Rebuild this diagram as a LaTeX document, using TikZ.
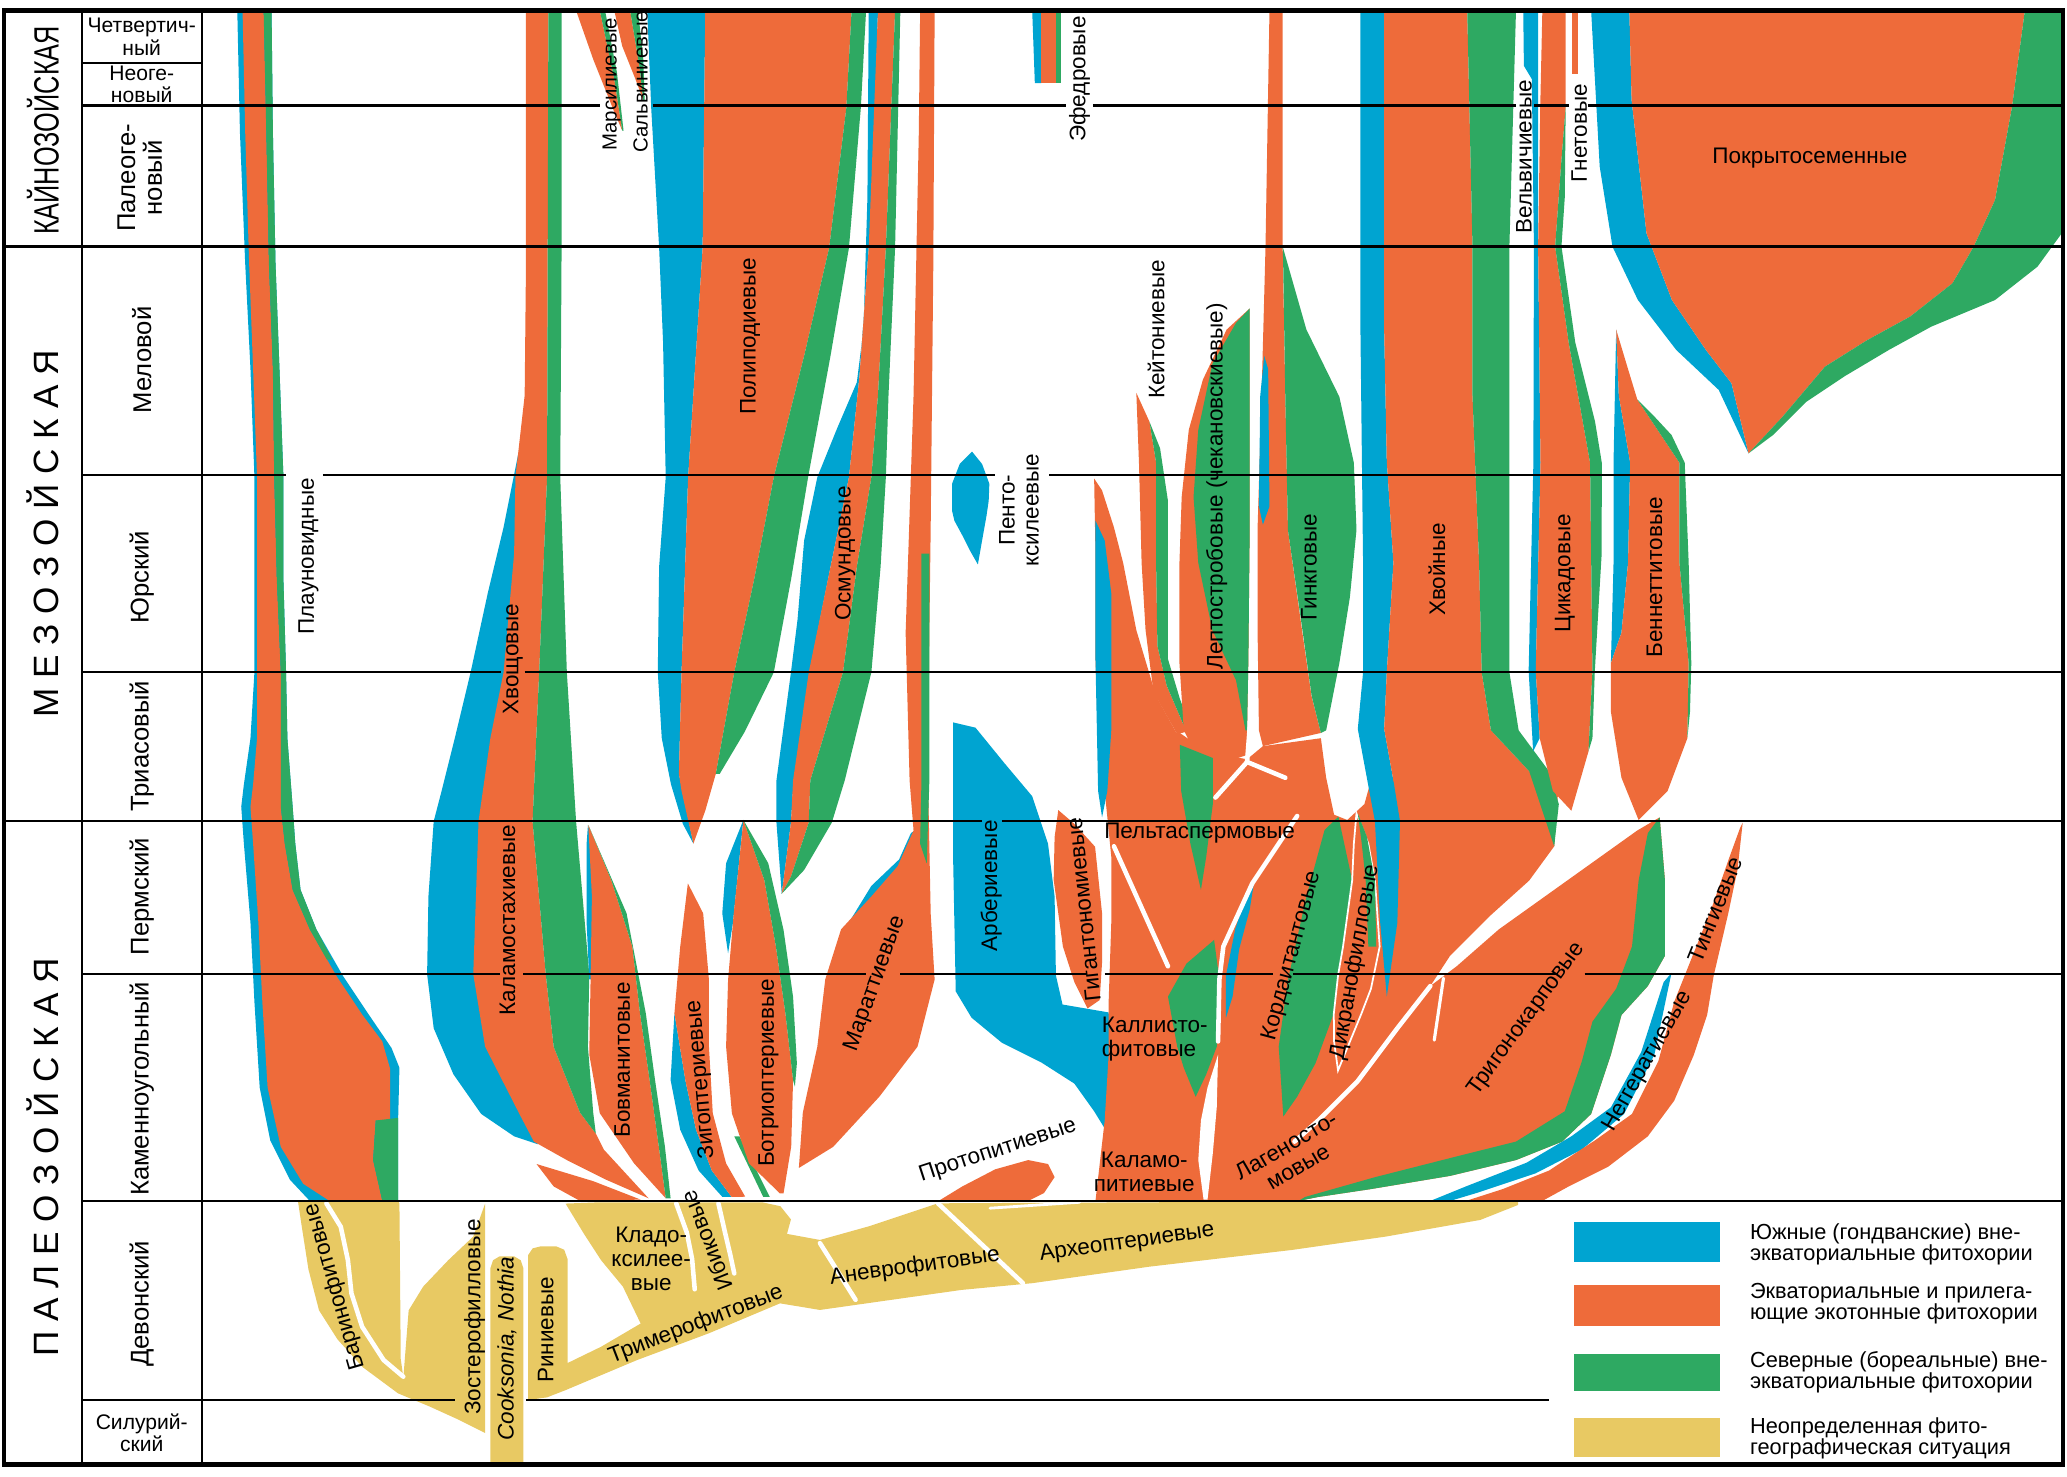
\documentclass[tikz,border=0pt]{standalone}
\usepackage{fontspec}
\setmainfont{Liberation Sans}
\usepackage{graphicx}
\usepackage{tikz}
\definecolor{sblue}{RGB}{0,164,209}
\definecolor{eorange}{RGB}{238,107,58}
\definecolor{ngreen}{RGB}{46,169,98}
\definecolor{uyellow}{RGB}{232,201,99}

\begin{document}
\begin{tikzpicture}[x=0.013183cm, y=-0.013183cm,
	lbl/.style={font=\fontsize{6.4}{6.8}\selectfont, inner sep=0pt, align=center},
	vlbl/.style={lbl, rotate=90},
	tinylbl/.style={font=\fontsize{5.8}{6}\selectfont, inner sep=0pt, rotate=90},
	per/.style={font=\fontsize{7.3}{7.6}\selectfont, inner sep=0pt, align=center},
	smallper/.style={font=\fontsize{6}{6.4}\selectfont, inner sep=0pt, align=center},
	era/.style={font=\fontsize{10}{10}\selectfont, inner sep=0pt, rotate=90},
	chronoline/.style={line width=0.6pt},
	slit/.style={white, line width=1.3pt, line cap=round, line join=round},
	leg/.style={font=\fontsize{6.2}{6.1}\selectfont, inner sep=0pt, align=left, anchor=west}]
	\useasboundingbox (0,0) rectangle (1568,1120);
	\coordinate (NW) at (3,8);
	\coordinate (SE) at (1565,1111);
	\coordinate (C1) at (62,8);
	\coordinate (C2) at (153,8);

	\fill[uyellow] (226,911) -- (302,911) -- (303,913) -- (304,1031) -- (306,1045) -- (307,1032) -- (310,994) -- (321,976) -- (340,956) -- (359,938) -- (368,913) -- (368,1087) -- (360,1083) -- (348,1077) -- (326,1067) -- (302,1057) -- (275,1037) -- (256,1016) -- (242,994) -- (234,963) -- (229,931) -- cycle;
	\fill[uyellow] (372,1111) -- (372,962) -- (374,956) -- (379,953) -- (390,953) -- (395,956) -- (397,962) -- (397,1111) -- cycle;
	\fill[uyellow] (400.7,1062) -- (400.7,952) -- (404,947) -- (410,945.5) -- (422,945.5) -- (428,948) -- (430.5,955) -- (430.5,1034) -- (456,1021.6) -- (486,1004) -- (472.5,976) -- (456,956) -- (443,936) -- (429,913) -- (456,912) -- (505,912) -- (553.8,912) -- (578,912) -- (592,915) -- (600,925) -- (597,936) -- (622,940.6) -- (660,930) -- (690,920) -- (711.5,912.8) -- (1151.7,910.7) -- (1151.7,914) -- (1123,925.4) -- (1051.5,938) -- (979.9,948.2) -- (872.5,960.8) -- (783,973.4) -- (729.4,978.5) -- (622,993.7) -- (591.7,988.7) -- (537.5,1011.5) -- (483.3,1031.7) -- (429.1,1054.5) -- (415,1060) -- cycle;
	\draw[slit] (247.6,912.9) -- (258.5,930.6) -- (263.9,955.9) -- (266.6,981.1) -- (274.7,1006.4) -- (291,1031.7) -- (305.9,1044.3);
	\draw[slit] (513,913) -- (521,935) -- (525,955) -- (527,978);
	\draw[slit] (545,913) -- (550,935) -- (554,952) -- (557,966);
	\draw[slit] (622,943) -- (649,986);
	\draw[slit] (711.5,912.8) -- (776,973.4);
	\draw[slit, line width=0.8pt] (751,916.5) -- (819,912);

	\fill[sblue] (180,8) -- (206,8) -- (207,100) -- (209,200) -- (212,280) -- (215,362) -- (215,440) -- (217,510) -- (218,560) -- (222,612) -- (224,640) -- (228,675) -- (240,705) -- (260,740) -- (280,770) -- (297,795) -- (303,810) -- (302,850) -- (302,911) -- (235,911) -- (220,895) -- (205,865) -- (197,825) -- (193,760) -- (190,700) -- (185,640) -- (183,612) -- (185,595) -- (190,560) -- (193,510) -- (193,362) -- (190,280) -- (186,200) -- (182,100) -- cycle;
	\fill[eorange] (184,8) -- (200,8) -- (202,100) -- (204,200) -- (207,280) -- (208,362) -- (210,440) -- (213,510) -- (213,560) -- (213,612) -- (216,640) -- (222,675) -- (235,705) -- (255,740) -- (275,770) -- (290,790) -- (296,811) -- (296,850) -- (285,850) -- (283,880) -- (290,911) -- (250,911) -- (230,898) -- (213,870) -- (203,825) -- (199,760) -- (196,700) -- (192,640) -- (190,612) -- (192,595) -- (195,560) -- (195,510) -- (195,362) -- (192,280) -- (189,200) -- (186,100) -- cycle;
	\fill[ngreen] (200,8) -- (206,8) -- (207,100) -- (209,200) -- (212,280) -- (215,362) -- (215,440) -- (217,510) -- (218,560) -- (222,612) -- (224,640) -- (228,675) -- (240,705) -- (252,728) -- (248,728) -- (235,705) -- (222,675) -- (216,640) -- (213,612) -- (213,560) -- (213,510) -- (210,440) -- (208,362) -- (207,280) -- (204,200) -- (202,100) -- cycle;
	\fill[ngreen] (285,850) -- (302,848) -- (302,911) -- (290,911) -- (283,880) -- cycle;

	\fill[sblue] (393,345) -- (382,400) -- (370,450) -- (357,510) -- (345,560) -- (335,600) -- (329,623) -- (325,680) -- (324,739) -- (329,780) -- (344,815) -- (365,845) -- (390,862) -- (408,868) -- (400,845) -- (380,794) -- (372,700) -- (378,600) -- (390,480) -- (397,380) -- cycle;
	\fill[eorange] (399,8) -- (416,8) -- (415,362) -- (409,510) -- (404,623) -- (414,739) -- (420,794) -- (440,844) -- (452,860) -- (458,872) -- (492,909) -- (460,895) -- (430,880) -- (405,866) -- (394,845) -- (368,794) -- (359,739) -- (363,623) -- (372,560) -- (382,510) -- (390,420) -- (391,362) -- (398,300) -- (399,200) -- cycle;
	\fill[ngreen] (416,8) -- (426,8) -- (426,188) -- (425,362) -- (430,510) -- (437,623) -- (447,739) -- (446,794) -- (450,844) -- (452,860) -- (440,844) -- (420,794) -- (414,739) -- (404,623) -- (409,510) -- (415,362) -- cycle;
	\fill[eorange] (407,883) -- (450,896) -- (486,910) -- (440,911) -- (420,900) -- cycle;

	\fill[eorange] (437,8) -- (455,8) -- (466,60) -- (472,99) -- (466,85) -- (450,45) -- cycle;
	\fill[ngreen] (455,8) -- (459,8) -- (468,55) -- (473,99) -- (472,99) -- (466,60) -- cycle;
	\fill[eorange] (466,8) -- (478,8) -- (485,50) -- (488,76) -- (482,60) -- (472,35) -- cycle;
	\fill[ngreen] (478,8) -- (484,8) -- (488,45) -- (489,76) -- (488,76) -- (485,50) -- cycle;

	\fill[sblue] (491,8) -- (535,8) -- (533,188) -- (522,362) -- (517,510) -- (515,587) -- (526,640) -- (518,625) -- (509,595) -- (502,560) -- (499,510) -- (500,430) -- (505,362) -- (503,260) -- (500,188) -- (494,82) -- cycle;
	\fill[eorange] (535,8) -- (646,8) -- (642,82) -- (629,188) -- (610,270) -- (587,362) -- (572,440) -- (557,510) -- (543,587) -- (535,615) -- (526,640) -- (517,600) -- (515,587) -- (517,510) -- (522,362) -- (533,188) -- cycle;
	\fill[ngreen] (646,8) -- (657,8) -- (653,82) -- (644,188) -- (630,270) -- (613,362) -- (600,440) -- (587,510) -- (565,555) -- (546,587) -- (543,587) -- (557,510) -- (572,440) -- (587,362) -- (610,270) -- (629,188) -- (642,82) -- cycle;

	\fill[sblue] (659,8) -- (666,8) -- (662,150) -- (659,188) -- (652,285) -- (644,362) -- (630,430) -- (614,510) -- (602,592) -- (600,624) -- (593,678) -- (589,624) -- (589,592) -- (600,510) -- (605,470) -- (610,410) -- (620,362) -- (635,325) -- (650,290) -- (655,250) -- (658,150) -- cycle;
	\fill[eorange] (666,8) -- (679,8) -- (672,188) -- (666,300) -- (661,362) -- (650,430) -- (639.5,510) -- (614.7,592) -- (613.5,624) -- (600,665) -- (593,678) -- (600,624) -- (601.6,592) -- (613.5,510) -- (630,430) -- (644,362) -- (652,285) -- (659,188) -- cycle;
	\fill[ngreen] (679,8) -- (683,8) -- (679,188) -- (674,300) -- (672,362) -- (668,430) -- (661,510) -- (640.8,592) -- (631,624) -- (610,660) -- (593,678) -- (600,665) -- (613.5,624) -- (614.7,592) -- (639.5,510) -- (650,430) -- (661,362) -- (666,300) -- (672,188) -- cycle;

	\fill[sblue] (661,672) -- (682,652) -- (691,632) -- (694,630) -- (685,660) -- (664,684) -- (645,702) -- (642,703) -- cycle;
	\fill[eorange] (698,8) -- (709,8) -- (708,200) -- (706,400) -- (705,480) -- (704,592) -- (706,693) -- (709,743) -- (696,794) -- (667,832) -- (632,870) -- (606,886) -- (609,844) -- (620,794) -- (626,743) -- (638,705) -- (661,680) -- (681,657) -- (693,630) -- (690,592) -- (687,480) -- (693,300) -- (697,100) -- cycle;
	\fill[ngreen] (699,420) -- (705,420) -- (705,592) -- (703,655) -- (698,640) -- (699,592) -- cycle;

	\fill[sblue] (446,626) -- (450,640) -- (452,700) -- (451,743) -- (447,743) -- (445,700) -- (445,640) -- cycle;
	\fill[eorange] (446.3,625.8) -- (463.7,667.6) -- (479.7,718.1) -- (485.5,768.7) -- (492.8,819.3) -- (501.5,882.5) -- (505,909) -- (481,882.5) -- (455,844.5) -- (447,800) -- (448,743.4) -- (449,680) -- cycle;
	\fill[ngreen] (446.3,625.8) -- (475.3,692.8) -- (489.9,768.7) -- (497,820) -- (504.4,869.8) -- (508.7,909) -- (505,909) -- (501.5,882.5) -- (492.8,819.3) -- (485.5,768.7) -- (479.7,718.1) -- (463.7,667.6) -- cycle;

	\fill[sblue] (511.6,768.7) -- (508.7,819.3) -- (516,857) -- (530,888) -- (548,908) -- (555,908) -- (540,888) -- (528,857) -- (520,820) -- cycle;
	\fill[eorange] (521.8,670.1) -- (533.4,692.8) -- (537.8,743.4) -- (537.8,794) -- (540.7,844.5) -- (550.8,882.5) -- (565.3,907.8) -- (555,908) -- (540,888) -- (528,857) -- (520,820) -- (511.6,768.7) -- (516,718.1) -- cycle;
	\fill[ngreen] (557,862) -- (561,862) -- (584,908) -- (579,908) -- cycle;

	\fill[sblue] (563.9,622) -- (550.8,654.9) -- (547.9,692.8) -- (552.3,723.2) -- (556,700) -- (560,660) -- cycle;
	\fill[eorange] (563.9,622) -- (579.8,667.6) -- (588.6,718.1) -- (595.8,768.7) -- (601.6,819.3) -- (600.2,869.8) -- (594.4,905.2) -- (591.5,905.2) -- (568.2,882.5) -- (555.2,844.5) -- (550.8,794) -- (552.3,743.4) -- (556.6,692.8) -- (562.4,637.2) -- cycle;
	\fill[ngreen] (563.9,622) -- (582.8,654.9) -- (594.4,705.5) -- (601.6,756.1) -- (604.5,806.6) -- (603,824.3) -- (601.6,819.3) -- (595.8,768.7) -- (588.6,718.1) -- (579.8,667.6) -- cycle;

	\fill[eorange] (712,911) -- (730,900) -- (755,887) -- (780,880) -- (795,883) -- (800,893) -- (792,905) -- (780,911) -- cycle;

	\fill[sblue] (783,8) -- (790,8) -- (790,63) -- (785,63) -- cycle;
	\fill[eorange] (790,8) -- (801,8) -- (801,63) -- (790,63) -- cycle;
	\fill[ngreen] (801,8) -- (805,8) -- (805,63) -- (801,63) -- cycle;
	\fill[sblue] (737.4,342.6) -- (745,352) -- (750.5,367) -- (750,380) -- (748.3,391.5) -- (745,410) -- (741.8,428.2) -- (736,418) -- (730.9,407.8) -- (724,395) -- (722.2,387.4) -- (722.2,367) -- (728,352) -- cycle;

	\fill[sblue] (723,548) -- (740,552) -- (762,579) -- (783,604) -- (795,640) -- (800,680) -- (801,740) -- (806,762) -- (841,768) -- (843,800) -- (841,845) -- (838,856) -- (830,843) -- (815,822) -- (790,806) -- (760,791) -- (737,772) -- (725,752) -- (723,650) -- cycle;

	\fill[eorange] (831,911) -- (838,850) -- (841,800) -- (841,760) -- (843,700) -- (843,650) -- (838,600) -- (833,560) -- (860,557) -- (895,556) -- (905,563) -- (925,572) -- (946,576) -- (958,566) -- (1002,560) -- (1006,590) -- (1012,618) -- (1022,622) -- (1035,610) -- (1040,592) -- (1060,590) -- (1131,560) -- (1160,585) -- (1182,600) -- (1179,642) -- (1160,668) -- (1130,695) -- (1100,725) -- (1085,748) -- (1105,733) -- (1137,705) -- (1172,680) -- (1207,655) -- (1242,630) -- (1259,620) -- (1263,668) -- (1263,725) -- (1250,748) -- (1230,770) -- (1222,800) -- (1207,845) -- (1185,866) -- (1150,880) -- (1100,892) -- (1040,902) -- (1000,908) -- (985,911) -- cycle;
	\fill[eorange] (802.8,614.5) -- (815,625) -- (830.7,642.3) -- (836,692.8) -- (836,730) -- (834.2,758.6) -- (825,765) -- (815,745) -- (806.3,718) -- (799.3,667.6) -- (800,635) -- cycle;

	\fill[eorange] (830,363) -- (836,372) -- (845,400) -- (852,427) -- (862,478) -- (877,528) -- (893,557) -- (860,560) -- (833,560) -- (831,500) -- (831,420) -- cycle;
	\fill[sblue] (831,395) -- (838,410) -- (843,450) -- (843,554) -- (840,600) -- (836,620) -- (833,600) -- (831,500) -- cycle;
	\fill[eorange] (862,298) -- (872,320) -- (877,351) -- (877,427) -- (878,490) -- (885,520) -- (900,555) -- (893,557) -- (875,525) -- (869,478) -- (866,427) -- (864,351) -- cycle;
	\fill[ngreen] (872,320) -- (880,340) -- (886,380) -- (886,427) -- (886,500) -- (895,530) -- (906,560) -- (900,555) -- (885,520) -- (878,490) -- (877,427) -- (877,351) -- cycle;
	\fill[eorange] (948,234) -- (948,300) -- (948,400) -- (947,500) -- (946,554) -- (948,572) -- (930,578) -- (905,568) -- (898,554) -- (894.7,503) -- (894.7,427) -- (896.4,377) -- (901.8,326) -- (912.5,288) -- (930.5,250) -- cycle;
	\fill[ngreen] (948,234) -- (948,300) -- (948,400) -- (947,500) -- (946,554) -- (944.8,554) -- (937.6,516) -- (919.7,478) -- (909,427) -- (905.4,377) -- (909,326) -- (919.7,276) -- (937.6,245) -- cycle;
	\fill[eorange] (963,8) -- (973,8) -- (973,187) -- (975,300) -- (977,402) -- (987.7,478) -- (994.9,528) -- (1002,556) -- (958,566) -- (955,554) -- (954,480) -- (954,400) -- (957,300) -- (960,187) -- cycle;
	\fill[sblue] (959,270) -- (962,280) -- (963,384) -- (958,398) -- (955,384) -- (956,300) -- cycle;
	\fill[ngreen] (973,187) -- (991,250) -- (1016,301) -- (1027,351) -- (1029,402) -- (1024,453) -- (1016,503) -- (1006,554) -- (1002,556) -- (995,528) -- (988,478) -- (977,402) -- (975,301) -- (973.4,200) -- cycle;

	\fill[sblue] (1032,8) -- (1050,8) -- (1050,250) -- (1052,350) -- (1057,427) -- (1052,510) -- (1050,553) -- (1057,592) -- (1062,623) -- (1060,700) -- (1052,756) -- (1047,700) -- (1043,623) -- (1035,580) -- (1030,553) -- (1034,510) -- (1034,427) -- (1032,250) -- cycle;
	\fill[eorange] (1050,8) -- (1113,8) -- (1117,187) -- (1117,300) -- (1122,427) -- (1124,510) -- (1131,554) -- (1160,585) -- (1060,600) -- (1057,592) -- (1050,553) -- (1052,510) -- (1057,427) -- (1052,350) -- (1050,250) -- cycle;
	\fill[ngreen] (1113,8) -- (1150,8) -- (1145,187) -- (1145,350) -- (1145,510) -- (1152,554) -- (1175,585) -- (1182.5,610) -- (1179,642) -- (1170,615) -- (1160,585) -- (1131,554) -- (1124,510) -- (1122,427) -- (1117,300) -- (1117,187) -- cycle;

	\fill[sblue] (1155.5,8) -- (1166.8,8) -- (1166.8,187) -- (1168.6,351) -- (1165,509) -- (1168,560) -- (1163,570) -- (1159.6,509) -- (1163.2,351) -- (1163.6,187) -- (1162,60) -- (1156,50) -- cycle;
	\fill[eorange] (1170,8) -- (1187.7,8) -- (1187.7,81) -- (1184.5,121) -- (1179.7,187) -- (1190,260) -- (1206.2,351) -- (1208,509) -- (1205,570) -- (1192,615) -- (1178,600) -- (1168,560) -- (1165,509) -- (1168.6,351) -- (1166.8,187) -- (1168.4,81) -- cycle;
	\fill[ngreen] (1187.7,81) -- (1187,150) -- (1184.5,187) -- (1195,260) -- (1210,320) -- (1215.1,351) -- (1215,420) -- (1209.8,509) -- (1208,560) -- (1205,570) -- (1208,509) -- (1206.2,351) -- (1190,260) -- (1179.7,187) -- (1184.5,121) -- cycle;
	\fill[eorange] (1192.6,8) -- (1197.4,8) -- (1197.4,56) -- (1192.6,56) -- cycle;

	\fill[sblue] (1207,8) -- (1236,8) -- (1237.7,75.9) -- (1249,177) -- (1268.3,227.6) -- (1294.1,265.5) -- (1313.5,290.8) -- (1326.4,343.9) -- (1303.8,295.8) -- (1271.6,265.5) -- (1242.5,227.6) -- (1223.2,187.1) -- (1213.5,126.4) -- cycle;
	\fill[eorange] (1236,8) -- (1536,8) -- (1526.3,81) -- (1513.4,151.7) -- (1497.2,187.1) -- (1481.1,214.9) -- (1448.9,240.2) -- (1416.6,257.9) -- (1384.4,278.1) -- (1352.2,316.1) -- (1326.4,343.9) -- (1313.5,290.8) -- (1294.1,265.5) -- (1268.3,227.6) -- (1249,177) -- (1237.7,75.9) -- cycle;
	\fill[ngreen] (1536,8) -- (1564,8) -- (1564,177) -- (1545.6,202.3) -- (1513.4,227.6) -- (1465,247.8) -- (1432.8,265.5) -- (1400,285) -- (1370,305) -- (1345,330) -- (1326.4,343.9) -- (1352.2,316.1) -- (1384.4,278.1) -- (1416.6,257.9) -- (1448.9,240.2) -- (1481.1,214.9) -- (1497.2,187.1) -- (1513.4,151.7) -- (1526.3,81) -- cycle;

	\fill[sblue] (1226,250) -- (1228,300) -- (1236.6,351) -- (1235,427) -- (1230,480) -- (1222,503) -- (1224,427) -- (1224,351) -- (1225,300) -- cycle;
	\fill[eorange] (1226,250) -- (1235,280) -- (1242,303) -- (1260,330) -- (1274,351) -- (1274,427) -- (1281,503) -- (1280,560) -- (1265,600) -- (1243,622) -- (1230,590) -- (1222,540) -- (1222,503) -- (1230,480) -- (1235,427) -- (1236.6,351) -- (1228,300) -- cycle;
	\fill[ngreen] (1242,303) -- (1255,316) -- (1268,330) -- (1278,351) -- (1281,427) -- (1283,503) -- (1282,540) -- (1280,560) -- (1281,503) -- (1274,427) -- (1274,351) -- (1260,330) -- cycle;

	\fill[ngreen] (895,565) -- (920,575) -- (920,610) -- (915,650) -- (911,675) -- (903,640) -- (896,600) -- cycle;
	\fill[ngreen] (921,713) -- (925,743) -- (923,794) -- (915,815) -- (907,832) -- (898,810) -- (893,794) -- (886,756) -- (900,731) -- cycle;
	\fill[ngreen] (1015.3,619.5) -- (1025.7,667.6) -- (1022.3,718) -- (1011.8,768.7) -- (997.9,806.6) -- (984,831.9) -- (973.5,847) -- (970,794) -- (977,743.4) -- (991,680.2) -- (1004.8,629.6) -- cycle;
	\fill[sblue] (952,665) -- (948,690) -- (940,720) -- (935,756) -- (930,772) -- (930,740) -- (937,705) -- (945,680) -- cycle;
	\filldraw[fill=eorange, draw=white, line width=0.5pt] (1029,617) -- (1038,640) -- (1043,668) -- (1046.6,718) -- (1040,750) -- (1032.7,769) -- (1022,795) -- (1015,812) -- (1012,790) -- (1011.8,769) -- (1015,740) -- (1018.8,718) -- (1025.7,668) -- (1027,640) -- cycle;
	\fill[ngreen] (1030,617) -- (1037,635) -- (1043,668) -- (1044,718) -- (1038,718) -- (1036,668) -- (1033,640) -- cycle;
	\fill[ngreen] (1259,620) -- (1263,668) -- (1263,725) -- (1250,748) -- (1230,770) -- (1222,800) -- (1207,845) -- (1185,866) -- (1150,880) -- (1100,892) -- (1040,902) -- (1000,908) -- (985,911) -- (990,908) -- (1043,893) -- (1102,878) -- (1150,866) -- (1187,843) -- (1200,805) -- (1208,775) -- (1226,750) -- (1238,718) -- (1243,668) -- (1250,632) -- cycle;
	\fill[sblue] (1268,738) -- (1265,752) -- (1255,800) -- (1232,845) -- (1200,872) -- (1165,890) -- (1120,905) -- (1100,911) -- (1085,911) -- (1112,900) -- (1158,882) -- (1192,862) -- (1222,840) -- (1245,798) -- (1262,745) -- cycle;
	\fill[eorange] (1322,624) -- (1318,660) -- (1311,693) -- (1300,740) -- (1295,770) -- (1285,800) -- (1270,835) -- (1250,862) -- (1220,885) -- (1190,900) -- (1170,911) -- (1112,911) -- (1140,902) -- (1175,888) -- (1210,865) -- (1238,845) -- (1258,805) -- (1270,760) -- (1282,730) -- (1298,690) -- (1312,650) -- (1320,628) -- cycle;

	\draw[slit] (845,642) -- (886,733);
	\draw[slit] (948,552) -- (946,578) -- (922,605);
	\draw[slit] (946,578) -- (975,590);
	\draw[slit] (984,619) -- (950,670) -- (928,718) -- (925,743) -- (924,790);
	\fill[white] (913,910) -- (909,880) -- (911,850) -- (916,825) -- (924,800) -- (923,840) -- (920,875) -- (916,910) -- cycle;
	\draw[slit] (1085,748) -- (1060,780) -- (1030,820) -- (1000,850) -- (982,866);
	\draw[slit, line width=0.9pt] (1095,742) -- (1088,789);

	\draw[chronoline] (62,48) -- (153,48);
	\draw[chronoline] (62,80) -- (455,80) (495,80) -- (809,80) (829,80) -- (1150,80) (1164,80) -- (1190,80) (1205,80) -- (1565,80);
	\draw[chronoline] (3,187) -- (1565,187);
	\draw[chronoline] (62,360) -- (217,360) (245,360) -- (755,360) (796,360) -- (1565,360);
	\draw[chronoline] (62,510) -- (380,510) (398,510) -- (1565,510);
	\draw[chronoline] (3,623) -- (745,623) (760,623) -- (1565,623);
	\draw[chronoline] (62,739) -- (379,739) (397,739) -- (657,739) (683,739) -- (824,739) (838,739) -- (966,739) (981,739) -- (1182,739) (1202,739) -- (1565,739);
	\draw[chronoline] (62,911) -- (1565,911);
	\draw[chronoline] (62,1062) -- (345,1062) (399,1062) -- (1175,1062);
	\draw[chronoline] (C1) -- (62,1111);
	\draw[chronoline] (C2) -- (153,1111);
	\draw[line width=1.2pt] (NW) rectangle (SE);

	\fill[sblue] (1194,927) rectangle (1305,957);
	\fill[eorange] (1194,975) rectangle (1305,1006);
	\fill[ngreen] (1194,1027) rectangle (1305,1055);
	\fill[uyellow] (1194,1076) rectangle (1305,1105);
	\node[leg] (legS) at (1327,944) {Южные (гондванские) вне-\\экваториальные фитохории};
	\node[leg] (legE) at (1327,989) {Экваториальные и прилега-\\ющие экотонные фитохории};
	\node[leg] (legN) at (1327,1041) {Северные (бореальные) вне-\\экваториальные фитохории};
	\node[leg] (legU) at (1327,1091) {Неопределенная фито-\\географическая ситуация};

	\node[era] (kaino) at (32.5,99) {\scalebox{0.72}[1]{КАЙНОЗОЙСКАЯ}};
	\node[era] (mezo) at (32.5,405) {М Е З О З О Й С К А Я};
	\node[era] (paleo) at (32.5,878) {П А Л Е О З О Й С К А Я};
	\node[smallper] (quat) at (107.5,28) {Четвертич-\\ный};
	\node[smallper] (neog) at (107.5,64) {Неоге-\\новый};
	\node[per, rotate=90] (paleog) at (106,135) {Палеоге-\\новый};
	\node[per, rotate=90] (mel) at (107.5,273) {Меловой};
	\node[per, rotate=90] (jur) at (107.5,438) {Юрский};
	\node[per, rotate=90] (trias) at (107.5,566) {Триасовый};
	\node[per, rotate=90] (perm) at (107.5,680) {Пермский};
	\node[per, rotate=90] (karb) at (107.5,826) {Каменноугольный};
	\node[per, rotate=90] (devon) at (107.5,989) {Девонский};
	\node[smallper] (silur) at (107.5,1087) {Силурий-\\ский};

	\node[vlbl] (plaun) at (234,422) {Плауновидные};
	\node[vlbl] (hvosh) at (389,500) {Хвощовые};
	\node[vlbl] (kalst) at (385,698) {Каламостахиевые};
	\node[tinylbl] (marsil) at (464,64) {Марсилиевые};
	\node[tinylbl] (salv) at (486,62) {Сальвиниевые};
	\node[vlbl] (polip) at (569,255) {Полиподиевые};
	\node[vlbl] (osmund) at (641,420) {Осмундовые};
	\node[vlbl] (efedr) at (819,60) {Эфедровые};
	\node[vlbl] (pentox) at (773,387) {Пенто-\\ксилеевые};
	\node[vlbl] (velv) at (1156,119) {Вельвичиевые};
	\node[vlbl] (gnet) at (1198,101) {Гнетовые};
	\node[lbl] (pokr) at (1373,120) {Покрытосеменные};
	\node[vlbl] (keit) at (877,250) {Кейтониевые};
	\node[vlbl] (lept) at (923,369) {Лептостробовые (чекановскиевые)};
	\node[vlbl] (gink) at (993,430) {Гинкговые};
	\node[vlbl] (hvoin) at (1090,432) {Хвойные};
	\node[vlbl] (cikad) at (1187,435) {Цикадовые};
	\node[vlbl] (benn) at (1255,438) {Беннеттитовые};
	\node[vlbl] (bovm) at (472,804) {Бовманитовые};
	\node[lbl, rotate=95] (zigo) at (532,819) {Зигоптериевые};
	\node[vlbl] (botr) at (583,814) {Ботриоптериевые};
	\node[lbl, rotate=70] (marat) at (664,746) {Мараттиевые};
	\node[vlbl] (arber) at (752,672) {Арбериевые};
	\node[lbl, rotate=96] (gigant) at (822,690) {Гигантономиевые};
	\node[lbl] (pelt) at (910,632) {Пельтаспермовые};
	\node[lbl, align=left] (kallist) at (876,788) {Каллисто-\\фитовые};
	\node[lbl] (kalpit) at (868,889) {Каламо-\\питиевые};
	\node[lbl, rotate=75] (kord) at (980,725) {Кордаитантовые};
	\node[lbl, rotate=80] (dikr) at (1028,730) {Дикранофилловые};
	\node[lbl, rotate=30] (lagen) at (980,877) {Лагеносто-\\мовые};
	\node[lbl, rotate=54] (trigon) at (1158,773) {Тригонокарповые};
	\node[lbl, rotate=60] (negg) at (1250,805) {Неггератиевые};
	\node[lbl, rotate=68] (ting) at (1301,690) {Тингиевые};
	\node[lbl, rotate=18] (protop) at (757,873) {Протопитиевые};
	\node[lbl, rotate=8] (anevr) at (694,961) {Аневрофитовые};
	\node[lbl, rotate=8] (arheo) at (855,943) {Археоптериевые};
	\node[lbl, rotate=21] (trimer) at (528,1005) {Тримерофитовые};
	\node[lbl] (kladox) at (494,955) {Кладо-\\ксилее-\\вые};
	\node[lbl, rotate=112] (ibik) at (536,941) {Ибиковые};
	\node[lbl, rotate=106] (barin) at (254,976) {Баринофитовые};
	\node[vlbl] (zoster) at (360,999) {Зостерофилловые};
	\node[vlbl] (cooks) at (384.5,1023) {\itshape Cooksonia, Nothia};
	\node[vlbl] (rin) at (414,1009) {Риниевые};
\end{tikzpicture}
\end{document}
